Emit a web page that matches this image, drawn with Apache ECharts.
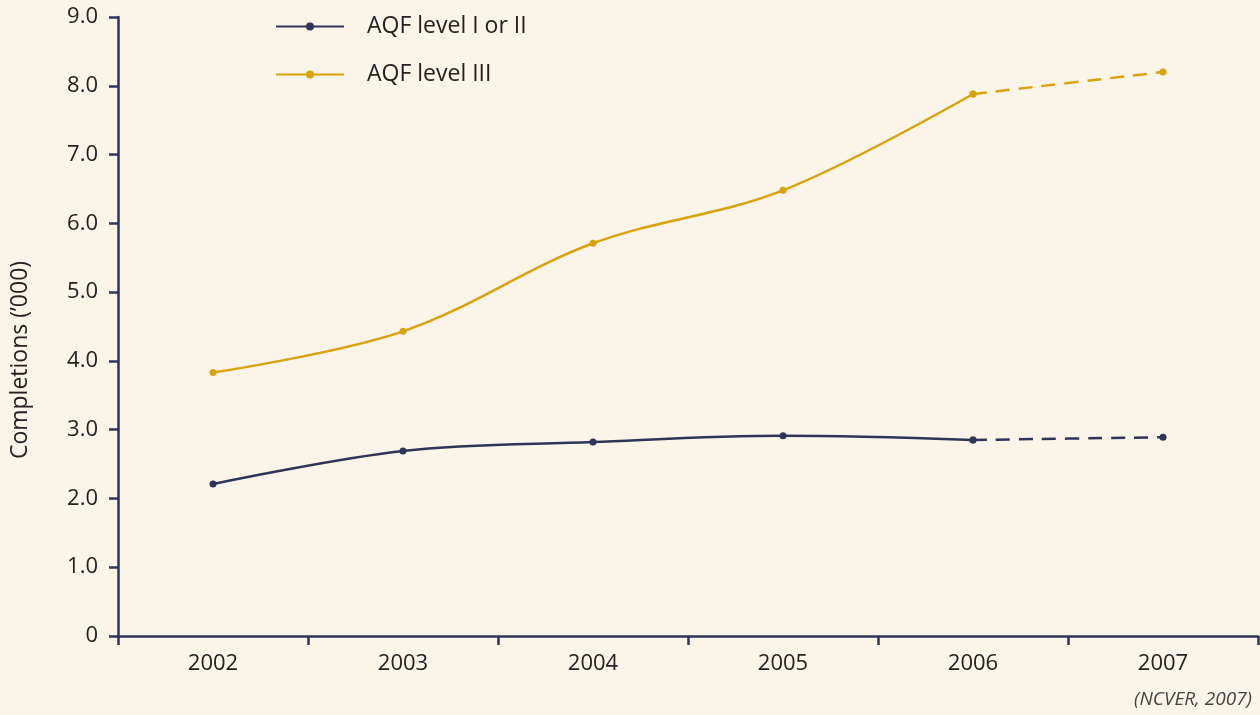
<!DOCTYPE html>
<html>
<head>
<meta charset="utf-8">
<script src="https://cdn.jsdelivr.net/npm/echarts@6/dist/echarts.min.js"></script>
<style>
html,body{margin:0;padding:0;background:#FAF4E9;}
#main{width:1260px;height:715px;}
</style>
</head>
<body>
<div id="main"></div>
<script>
const years = ['2002','2003','2004','2005','2006','2007'];
const level12 = [2.21, 2.69, 2.82, 2.91, 2.85, 2.89];
const level3 = [3.83, 4.43, 5.71, 6.48, 7.88, 8.20];
const seriesNames = ['AQF level I or II', 'AQF level III'];
const yTicks = [0, 1, 2, 3, 4, 5, 6, 7, 8, 9];

const NAVY = '#2E3558';
const GOLD = '#D9A20B';
const FONT = '"Open Sans", "Noto Sans", sans-serif';

function solidPart(arr){ return arr.map((v,i)=> i <= 4 ? v : null); }
function dashPart(arr){ return arr.map((v,i)=> i >= 4 ? v : null); }

const chart = echarts.init(document.getElementById('main'), null, {renderer:'canvas'});
chart.setOption({
  backgroundColor: '#FAF4E9',
  animation: false,
  grid: {left: 118, right: 2, top: 17, bottom: 79, containLabel: false},
  legend: {
    data: seriesNames,
    orient: 'vertical',
    left: 270, top: 10,
    itemWidth: 68, itemHeight: 10,
    itemGap: 25,
    textStyle: {fontFamily: FONT, fontSize: 23, color: '#222', padding: [0,0,0,18]}
  },
  xAxis: {
    type: 'category',
    data: years,
    boundaryGap: true,
    axisLine: {lineStyle: {color: NAVY, width: 2.5}},
    axisTick: {show: true, length: 9, inside: false, lineStyle: {color: NAVY, width: 2.5}},
    axisLabel: {fontFamily: FONT, fontSize: 22, color: '#222', margin: 17}
  },
  yAxis: {
    type: 'value',
    min: yTicks[0], max: yTicks[yTicks.length-1], interval: 1,
    axisLine: {show: true, lineStyle: {color: NAVY, width: 2.5}},
    axisTick: {show: true, length: 9, lineStyle: {color: NAVY, width: 2.5}},
    splitLine: {show: false},
    axisLabel: {
      fontFamily: FONT, fontSize: 22, color: '#222', margin: 20,
      formatter: v => v === 0 ? '0' : v.toFixed(1)
    }
  },
  series: [
    {name: seriesNames[0], type: 'line', data: solidPart(level12), smooth: 0.35,
     symbol: 'circle', symbolSize: 7, showSymbol: true,
     lineStyle: {color: NAVY, width: 2.5}, itemStyle: {color: NAVY}},
    {name: seriesNames[1], type: 'line', data: solidPart(level3), smooth: 0.35,
     symbol: 'circle', symbolSize: 7,
     lineStyle: {color: GOLD, width: 2.5}, itemStyle: {color: GOLD}},
    {name: seriesNames[0] + ' projected', type: 'line', data: dashPart(level12), smooth: 0.35,
     symbol: 'circle', symbolSize: 7,
     lineStyle: {color: NAVY, width: 2.5, type: [14, 9]}, itemStyle: {color: NAVY}},
    {name: seriesNames[1] + ' projected', type: 'line', data: dashPart(level3), smooth: 0.35,
     symbol: 'circle', symbolSize: 7,
     lineStyle: {color: GOLD, width: 2.5, type: [14, 9]}, itemStyle: {color: GOLD}}
  ],
  graphic: [
    {type: 'text', x: 20, y: 360, rotation: Math.PI/2, style: {
      text: 'Completions (\u2019000)', fontFamily: FONT, fontSize: 23, fill: '#222',
      align: 'center', verticalAlign: 'middle'}},
    {type: 'text', right: 8, top: 690, style: {
      text: '(NCVER, 2007)', fontFamily: FONT, fontSize: 19, fontStyle: 'italic', fill: '#444'}}
  ]
});
</script>
</body>
</html>
